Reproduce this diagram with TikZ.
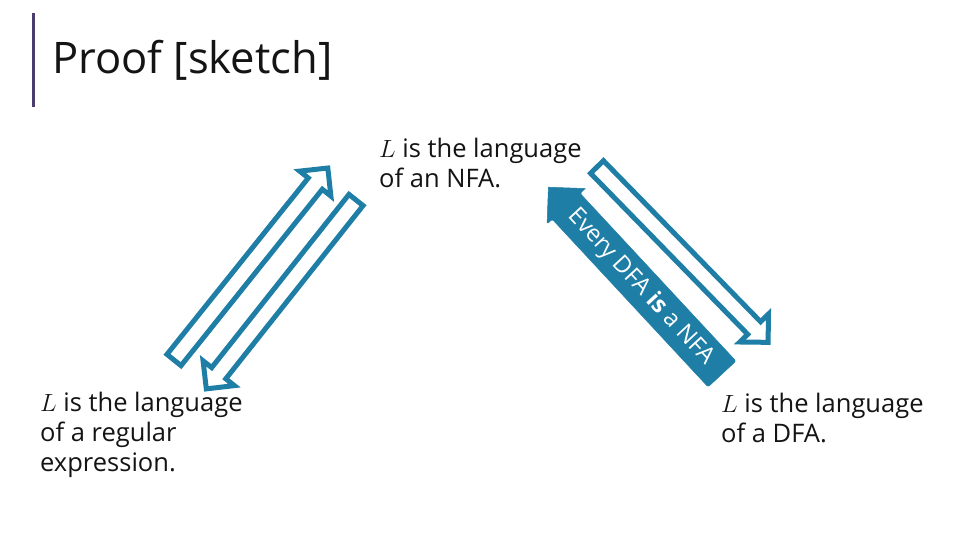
\documentclass[tikz,border=0pt]{standalone}
\usepackage{fontspec}
\setmainfont{Open Sans}
\definecolor{arrowblue}{RGB}{30,126,166}
\definecolor{barpurple}{RGB}{76,60,110}
\definecolor{ink}{RGB}{20,20,20}
\begin{document}
\begin{tikzpicture}[x=1pt,y=-1pt]
\tikzset{
  outarrow/.style={draw=arrowblue, line width=5pt, line join=miter, fill=white},
  solidarrow/.style={fill=arrowblue, draw=arrowblue, line width=0.5pt, rounded corners=2pt},
  body/.style={anchor=base west, inner sep=0pt, align=left, text=ink,
    font=\fontsize{25.5}{30}\selectfont},
  titletext/.style={anchor=base west, inner sep=0pt, text=ink,
    font=\fontsize{43.5}{50}\selectfont},
  arrowtext/.style={inner sep=0pt, text=white, font=\fontsize{23.5}{26}\selectfont},
}
\useasboundingbox (0,0) rectangle (960,540);
\fill[white] (0,0) rectangle (960,540);

% title and bar
\fill[barpurple] (32,13) rectangle (35,107);
\node[titletext] (title) at (52,74) {Proof [sketch]};

% texts (anchor = baseline of last line)
\node[body] (nfa) at (379,187) {$L$ is the language\\of an NFA.};
\node[body] (re) at (40,471) {$L$ is the language\\of a regular\\expression.};
\node[body] (dfa) at (721,442) {$L$ is the language\\of a DFA.};

% left outline arrows
\begin{scope}[shift={(174,360)}, rotate=51.3]
  \draw[outarrow] (0,-9) -- (226,-9) -- (226,-20) -- (246,0) -- (226,20) -- (226,9) -- (0,9) -- cycle;
\end{scope}
\begin{scope}[shift={(356,200)}, rotate=-128.4]
  \draw[outarrow] (0,-9) -- (221,-9) -- (221,-20) -- (241,0) -- (221,20) -- (221,9) -- (0,9) -- cycle;
\end{scope}

% right outline arrow
\begin{scope}[shift={(597,167)}, rotate=-45.7]
  \draw[outarrow] (0,-9) -- (225,-9) -- (225,-20) -- (245,0) -- (225,20) -- (225,9) -- (0,9) -- cycle;
\end{scope}

% solid arrow
\begin{scope}[shift={(722,374)}, rotate=132.9]
  \filldraw[solidarrow] (0,-19) -- (229,-19) -- (229,-26) [sharp corners] -- (255,0) -- (229,26) [rounded corners=2pt] -- (229,19) -- (0,19) -- cycle;
\end{scope}
\node[arrowtext, rotate=-47.1] (every) at (641,287) {Every DFA \textbf{is} a NFA};
\end{tikzpicture}
\end{document}
